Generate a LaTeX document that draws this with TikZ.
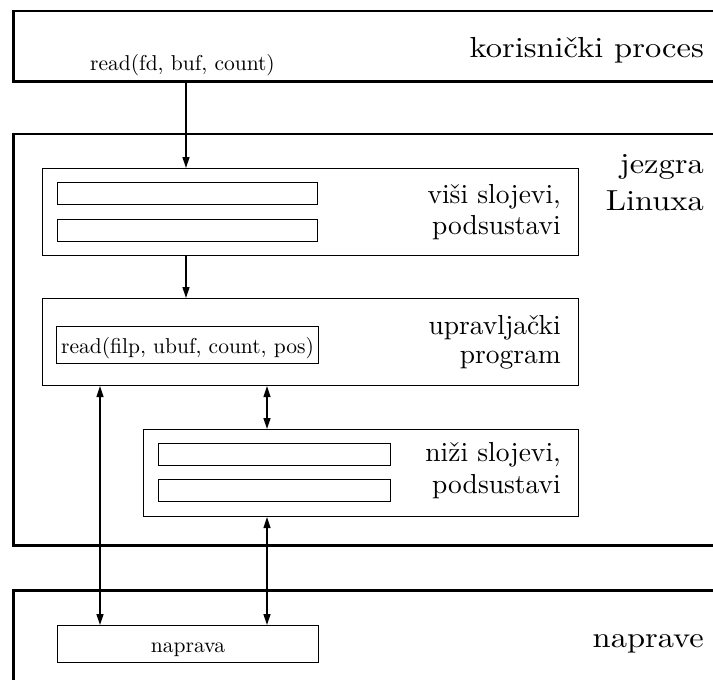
\documentclass[tikz,border=0pt]{standalone}
\usepackage{fontspec}
\usepackage{graphicx}
\setmainfont{lmroman10-regular}[Extension=.otf]
\usetikzlibrary{arrows.meta}
\tikzset{
  outer/.style={draw, line width=2.6pt, rectangle, inner sep=0pt, anchor=north west},
  layer/.style={draw, line width=1.1pt, rectangle, inner sep=0pt, anchor=north west},
  slot/.style={draw, line width=1.1pt, rectangle, inner sep=0pt, anchor=north west, text height=16.5pt, text depth=0pt, font=\fontsize{21.5}{24}\selectfont},
  big/.style={inner sep=0pt, anchor=base east, font=\fontsize{29}{32}\selectfont},
  mid/.style={inner sep=0pt, anchor=base east, font=\fontsize{27.5}{30}\selectfont},
  small/.style={inner sep=0pt, anchor=base, font=\fontsize{21.5}{24}\selectfont},
  arr/.style={line width=1.4pt, -{Triangle[length=11pt,width=7pt]}},
  darr/.style={line width=1.4pt, {Triangle[length=11pt,width=7pt]}-{Triangle[length=11pt,width=7pt]}}
}
\newcommand{\wide}[1]{\scalebox{1.12}[1]{#1}}
\begin{document}
\begin{tikzpicture}[x=1pt,y=-1pt]
\useasboundingbox (0,0) rectangle (713,680);
\clip (0,0) rectangle (713,680);
% outer regions
\node[outer, minimum width=728pt, minimum height=70.5pt] (user) at (12,9.5) {};
\node[outer, minimum width=728pt, minimum height=411.5pt] (kernel) at (12,132.5) {};
\node[outer, minimum width=728pt, minimum height=120pt] (dev) at (12,589) {};
% layers
\node[layer, minimum width=536pt, minimum height=87pt] (upper) at (42,168) {};
\node[layer, minimum width=260pt, minimum height=22pt] (u1) at (57,182) {};
\node[layer, minimum width=260pt, minimum height=22pt] (u2) at (57,219) {};
\node[layer, minimum width=536pt, minimum height=87pt] (ctrl) at (42,298) {};
\node[slot, minimum width=262pt, minimum height=37pt] (rd) at (56,326) {read(filp, ubuf, count, pos)};
\node[layer, minimum width=435pt, minimum height=87pt] (lower) at (143,429) {};
\node[layer, minimum width=232pt, minimum height=22pt] (l1) at (158,443) {};
\node[layer, minimum width=232pt, minimum height=22pt] (l2) at (158,479) {};
\node[slot, minimum width=261pt, minimum height=36.5pt] (nap) at (57,625) {naprava};
% labels
\node[big] (tuser) at (704,57) {\wide{korisnički proces}};
\node[small] (tcall) at (182.5,70.5) {read(fd, buf, count)};
\node[big] (tk1) at (704,173) {\wide{jezgra}};
\node[big] (tk2) at (704,210) {\wide{Linuxa}};
\node[mid] (tu1) at (561,203) {viši slojevi,};
\node[mid] (tu2) at (561,234) {podsustavi};
\node[mid] (tc1) at (561,334) {upravljački};
\node[mid] (tc2) at (561,363) {program};
\node[mid] (tl1) at (561,461) {niži slojevi,};
\node[mid] (tl2) at (561,493) {podsustavi};
\node[big] (tdev) at (704,647) {\wide{naprave}};
% connectors
\coordinate (lx) at (100,0);
\coordinate (mx) at (267,0);
\coordinate (cx) at (186,0);
\draw[arr] (cx |- user.south) -- (cx |- upper.north);
\draw[arr] (cx |- upper.south) -- (cx |- ctrl.north);
\draw[darr] (lx |- ctrl.south) -- (lx |- nap.north);
\draw[darr] (mx |- ctrl.south) -- (mx |- lower.north);
\draw[darr] (mx |- lower.south) -- (mx |- nap.north);
\end{tikzpicture}
\end{document}
